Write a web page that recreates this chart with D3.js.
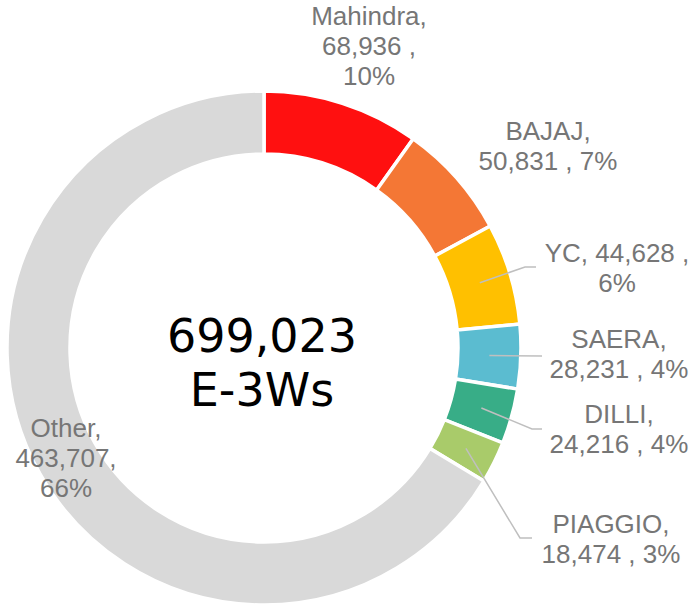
<!DOCTYPE html>
<html>
<head>
<meta charset="utf-8">
<script src="https://cdn.jsdelivr.net/npm/d3@7"></script>
<style>
  body { margin: 0; background: #fff; }
  svg { display: block; }
</style>
</head>
<body>
<svg width="692" height="606"></svg>
<script>
// data
let brands = ["Mahindra", "BAJAJ", "YC", "SAERA", "DILLI", "PIAGGIO", "Other"];
let units = [68936, 50831, 44628, 28231, 24216, 18474, 463707];
let shares = ["10%", "7%", "6%", "4%", "4%", "3%", "66%"];
let totalLabel = ["699,023", "E-3Ws"];

// styles
let colors = ["#FF1010", "#F47735", "#FFC000", "#5BBCD0", "#38AD87", "#A9CB6A", "#D9D9D9"];

// label layout: centre x, first baseline, line breaks, leader end (or null)
let labelLayout = [
  {x: 369, y: 25,  lines: d => [d.brand + ",", d.num + " ,", d.share], leader: null},
  {x: 548, y: 140, lines: d => [d.brand + ",", d.num + " , " + d.share], leader: null},
  {x: 617, y: 262, lines: d => [d.brand + ", " + d.num + " ,", d.share], leader: [[525, 267], [536, 267]]},
  {x: 619, y: 348, lines: d => [d.brand + ",", d.num + " , " + d.share], leader: [[542, 356]]},
  {x: 619, y: 423, lines: d => [d.brand + ",", d.num + " , " + d.share], leader: [[532, 429], [542, 429]]},
  {x: 611, y: 533, lines: d => [d.brand + ",", d.num + " , " + d.share], leader: [[520, 538], [532, 538]]},
  {x: 66,  y: 437, lines: d => [d.brand + ",", d.num + ",", d.share], leader: null}
];

let cx = 264, cy = 348;
let outerR = 257, innerR = 194;
let lineGap = 30;

var svg = d3.select("svg");
var g = svg.append("g").attr("transform", "translate(" + cx + "," + cy + ")");

let fmt = d3.format(",");
let rows = brands.map(function(b, i) {
  return {brand: b, value: units[i], num: fmt(units[i]), share: shares[i], color: colors[i]};
});

let pie = d3.pie()
  .value(function(d) { return d.value; })
  .sort(null);

let arc = d3.arc()
  .innerRadius(innerR)
  .outerRadius(outerR);

let arcs = pie(rows);

// slices
g.selectAll("path.slice")
  .data(arcs)
  .enter()
  .append("path")
  .attr("class", "slice")
  .attr("d", arc)
  .attr("fill", function(d) { return d.data.color; })
  .attr("stroke", "#fff")
  .attr("stroke-width", 3.5)
  .attr("stroke-linejoin", "miter");

// leader lines, from slice centroid to the label
let line = d3.line();
arcs.forEach(function(a, i) {
  let lay = labelLayout[i];
  if (!lay.leader) return;
  let c = arc.centroid(a);
  let pts = [[c[0] + cx, c[1] + cy]].concat(lay.leader);
  svg.append("path")
    .attr("d", line(pts))
    .attr("fill", "none")
    .attr("stroke", "#BFBFBF")
    .attr("stroke-width", 1.5);
});

// data labels
arcs.forEach(function(a, i) {
  let lay = labelLayout[i];
  let t = svg.append("text")
    .attr("x", lay.x)
    .attr("y", lay.y)
    .attr("text-anchor", "middle")
    .attr("fill", "#767676")
    .style("font-family", "'Liberation Sans', Arial, sans-serif")
    .style("font-size", "26px");
  lay.lines(a.data).forEach(function(s, k) {
    t.append("tspan")
      .attr("x", lay.x)
      .attr("y", lay.y + k * lineGap)
      .text(s);
  });
});

// centre total
let ct = svg.append("text")
  .attr("text-anchor", "middle")
  .attr("fill", "#000")
  .style("font-family", "'DejaVu Sans', Verdana, sans-serif")
  .style("font-size", "46px");
totalLabel.forEach(function(s, k) {
  ct.append("tspan")
    .attr("x", 262)
    .attr("y", 352 + k * 54)
    .text(s);
});
</script>
</body>
</html>
